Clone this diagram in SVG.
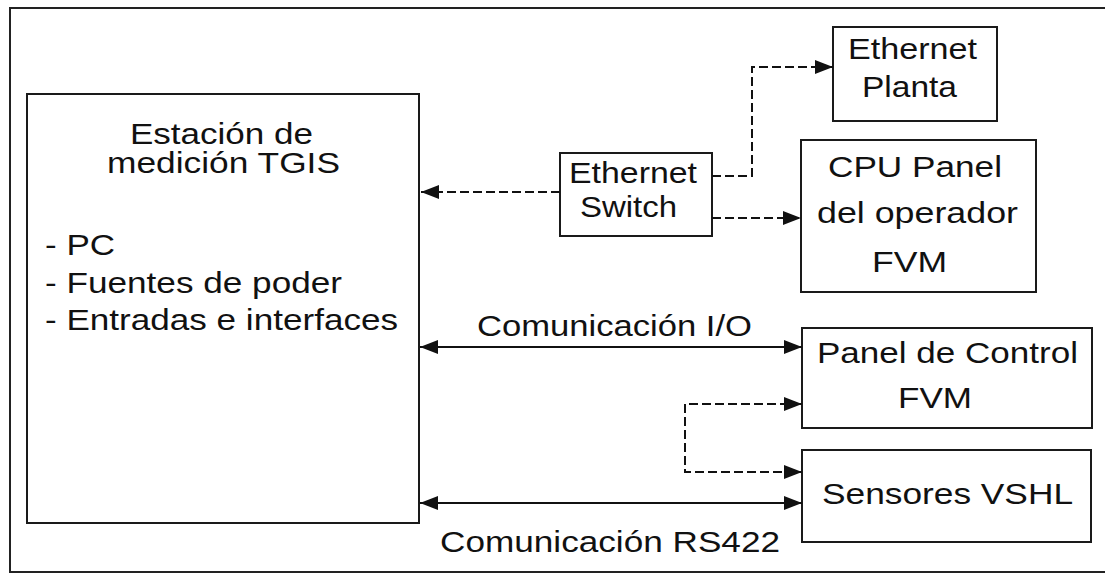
<svg xmlns="http://www.w3.org/2000/svg" width="1105" height="576" viewBox="0 0 1105 576">
<style>
.box{fill:#fff;stroke:#1a1a1a;stroke-width:2}
.t{font-family:"Liberation Sans",Arial,sans-serif;font-size:29px;fill:#111}
.c{fill:none;stroke:#111;stroke-width:2}
.d{stroke-dasharray:9 4}
</style>
<defs>
<marker id="ah" markerUnits="userSpaceOnUse" markerWidth="18" markerHeight="14" refX="18" refY="7" orient="auto-start-reverse" viewBox="0 0 18 14">
<path d="M0,0 L18,7 L0,14 z" fill="#111"/>
</marker>
</defs>
<rect x="10" y="8" width="1110" height="564" fill="#fff" stroke="#222" stroke-width="2"/>
<g id="estacion">
<rect class="box" x="27" y="94" width="392" height="429"/>
<text class="t" x="130" y="144" textLength="183" lengthAdjust="spacingAndGlyphs">Estación de</text>
<text class="t" x="107" y="173" textLength="233" lengthAdjust="spacingAndGlyphs">medición TGIS</text>
<text class="t" x="45" y="255" textLength="70" lengthAdjust="spacingAndGlyphs">- PC</text>
<text class="t" x="45" y="293" textLength="297" lengthAdjust="spacingAndGlyphs">- Fuentes de poder</text>
<text class="t" x="45" y="330" textLength="353" lengthAdjust="spacingAndGlyphs">- Entradas e interfaces</text>
</g>
<g id="switch">
<rect class="box" x="560" y="153" width="152" height="83"/>
<text class="t" x="569" y="183" textLength="128" lengthAdjust="spacingAndGlyphs">Ethernet</text>
<text class="t" x="580" y="217" textLength="97" lengthAdjust="spacingAndGlyphs">Switch</text>
</g>
<g id="planta">
<rect class="box" x="833" y="27" width="164" height="94"/>
<text class="t" x="848" y="59" textLength="129" lengthAdjust="spacingAndGlyphs">Ethernet</text>
<text class="t" x="862" y="97" textLength="95" lengthAdjust="spacingAndGlyphs">Planta</text>
</g>
<g id="cpu">
<rect class="box" x="801" y="140" width="235" height="152"/>
<text class="t" x="828" y="177" textLength="174" lengthAdjust="spacingAndGlyphs">CPU Panel</text>
<text class="t" x="817" y="223" textLength="201" lengthAdjust="spacingAndGlyphs">del operador</text>
<text class="t" x="872" y="272" textLength="75" lengthAdjust="spacingAndGlyphs">FVM</text>
</g>
<g id="panel">
<rect class="box" x="802" y="328" width="290" height="100"/>
<text class="t" x="817" y="363" textLength="261" lengthAdjust="spacingAndGlyphs">Panel de Control</text>
<text class="t" x="898" y="408" textLength="74" lengthAdjust="spacingAndGlyphs">FVM</text>
</g>
<g id="sensores">
<rect class="box" x="802" y="450" width="289" height="92"/>
<text class="t" x="822" y="504" textLength="251" lengthAdjust="spacingAndGlyphs">Sensores VSHL</text>
</g>
<g id="connectors">
<path class="c d" d="M560,192 H421" marker-end="url(#ah)"/>
<path class="c d" d="M712,176 H752 V67 H833" marker-end="url(#ah)"/>
<path class="c d" d="M712,218 H801" marker-end="url(#ah)"/>
<path class="c" d="M420,347 H802" marker-start="url(#ah)" marker-end="url(#ah)"/>
<path class="c d" d="M802,404 H685 V472 H802" marker-start="url(#ah)" marker-end="url(#ah)"/>
<path class="c" d="M420,503 H802" marker-start="url(#ah)" marker-end="url(#ah)"/>
<text class="t" x="477" y="336" textLength="275" lengthAdjust="spacingAndGlyphs">Comunicación I/O</text>
<text class="t" x="440" y="552" textLength="340" lengthAdjust="spacingAndGlyphs">Comunicación RS422</text>
</g>
</svg>
